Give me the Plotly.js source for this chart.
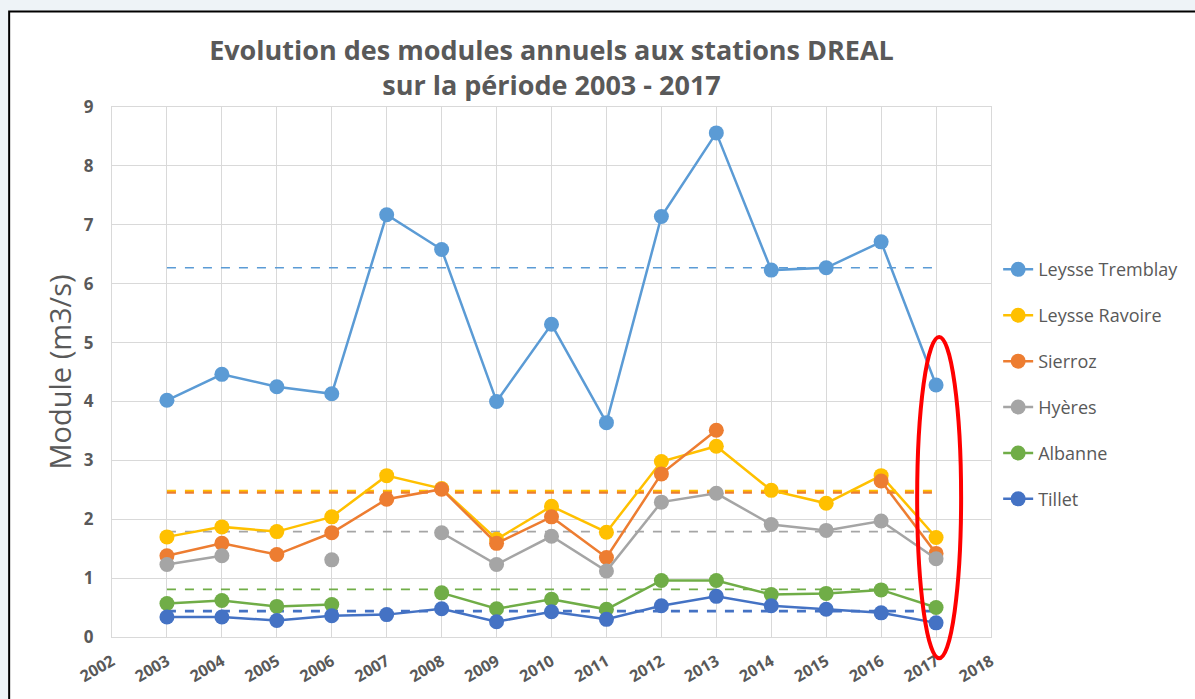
<!DOCTYPE html>
<html>
<head>
<meta charset="utf-8">
<script src="https://cdn.plot.ly/plotly-3.0.1.min.js"></script>
<style>
html,body{margin:0;padding:0;background:#eef3f7;}
#chart{width:1195px;height:699px;}
</style>
</head>
<body>
<div id="chart"></div>
<script>
// Data
const years = [2003,2004,2005,2006,2007,2008,2009,2010,2011,2012,2013,2014,2015,2016,2017];
const seriesNames = ["Leysse Tremblay","Leysse Ravoire","Sierroz","Hyères","Albanne","Tillet"];
const leysseTremblay = [4.02,4.46,4.25,4.13,7.17,6.58,4.00,5.31,3.64,7.14,8.56,6.23,6.27,6.71,4.28];
const leysseRavoire  = [1.70,1.87,1.79,2.04,2.74,2.52,1.66,2.22,1.78,2.98,3.24,2.49,2.27,2.74,1.69];
const sierroz        = [1.38,1.59,1.40,1.77,2.34,2.51,1.59,2.04,1.35,2.77,3.51,null,null,2.65,1.42];
const hyeres         = [1.23,1.38,null,1.31,null,1.77,1.23,1.71,1.12,2.29,2.44,1.91,1.81,1.97,1.33];
const albanne        = [0.57,0.62,0.52,0.55,null,0.75,0.48,0.64,0.47,0.96,0.96,0.72,0.74,0.80,0.50];
const tillet         = [0.34,0.34,0.28,0.36,0.38,0.48,0.26,0.43,0.30,0.53,0.69,0.53,0.47,0.41,0.24];
// Period means (dashed lines)
const means = [6.27,2.48,2.45,1.79,0.81,0.44];
const meanSpan = [2003,2017];
const colors = ["#5B9BD5","#FFC000","#ED7D31","#A5A5A5","#70AD47","#4472C4"];
const meanWidths = [1.6,2.2,2.2,1.8,1.8,2.6];
const xTicks = [2002,2003,2004,2005,2006,2007,2008,2009,2010,2011,2012,2013,2014,2015,2016,2017,2018];
const yTicks = [0,1,2,3,4,5,6,7,8,9];
const yTitle = 'Module (m3/s)';

const allSeries = [leysseTremblay,leysseRavoire,sierroz,hyeres,albanne,tillet];
const txt = "#595959";
const traces = [];
allSeries.forEach((s,i)=>{
  traces.push({
    x: meanSpan, y:[means[i],means[i]], mode:'lines', showlegend:false, hoverinfo:'skip',
    line:{color:colors[i], width:meanWidths[i], dash:'dash'}
  });
});
allSeries.forEach((s,i)=>{
  traces.push({
    x: years, y: s, name: seriesNames[i], mode:'lines+markers', legendgroup:'g'+i,
    connectgaps:false,
    line:{color:colors[i], width:2.5},
    marker:{color:colors[i], size:15}
  });
});

const layout = {
  width:1195, height:699,
  paper_bgcolor:'#eef3f7', plot_bgcolor:'#ffffff',
  margin:{l:112, r:203, t:107, b:62},
  font:{family:'"Open Sans", sans-serif', color:txt},
  title:{
    text:'<b>Evolution des modules annuels aux stations DREAL<br>sur la période 2003 - 2017</b>',
    font:{size:27, color:txt, family:'"Open Sans", sans-serif'},
    x:0.5, xanchor:'center', xref:'paper', y:0.914, yanchor:'middle'
  },
  xaxis:{
    range:[2002,2018], tickvals:xTicks, ticktext:xTicks.map(String), tickangle:-30,
    showgrid:true, gridcolor:'#d9d9d9', gridwidth:1, zeroline:false,
    showline:true, linecolor:'#d9d9d9', mirror:true, ticks:'', ticklabelstandoff:8,
    tickfont:{size:16, color:txt, weight:'bold'}
  },
  yaxis:{
    range:[0,9], tickvals:yTicks, showgrid:true, gridcolor:'#d9d9d9', gridwidth:1, zeroline:false,
    showline:true, linecolor:'#d9d9d9', mirror:true, ticks:'', ticklabelstandoff:14,
    tickfont:{size:17, color:txt, weight:'bold'}
  },
  annotations:[
    {text:yTitle, xref:'paper', yref:'paper', x:-0.0608, y:0.5, xanchor:'center', yanchor:'middle',
     textangle:-90, showarrow:false, font:{size:29, color:txt}}
  ],
  legend:{
    x:1.007, xanchor:'left', y:0.728, yanchor:'top', tracegroupgap:19.5,
    font:{size:18, color:txt}, bgcolor:'rgba(0,0,0,0)', itemwidth:30
  },
  shapes:[
    {type:'rect', xref:'paper', yref:'paper', x0:-0.117, x1:1.35, y0:-0.3, y1:1.18,
     fillcolor:'#ffffff', line:{color:'#000000', width:2}, layer:'below'},
    {type:'circle', xref:'paper', yref:'paper', x0:0.916, x1:0.966, y0:-0.04, y1:0.566,
     line:{color:'#ff0000', width:4}, layer:'above'}
  ]
};
Plotly.newPlot('chart', traces, layout, {displayModeBar:false, staticPlot:true});
</script>
</body>
</html>
